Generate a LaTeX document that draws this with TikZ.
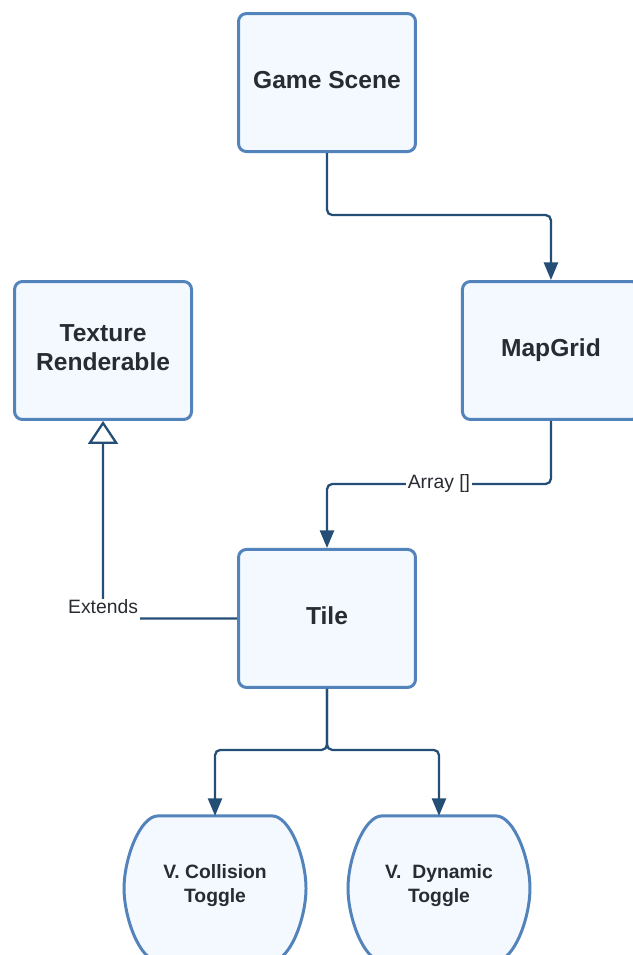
\documentclass[tikz,border=0pt]{standalone}
\usepackage{fontspec}
\setmainfont{Liberation Sans}
\usetikzlibrary{matrix,arrows.meta,positioning}
\definecolor{boxline}{RGB}{82,131,186}
\definecolor{boxfill}{RGB}{244,249,255}
\definecolor{connline}{RGB}{36,78,117}
\definecolor{txt}{RGB}{40,44,50}
\pgfdeclarelayer{bg}
\pgfsetlayers{bg,main}
\tikzset{
	box/.style={draw=boxline, fill=boxfill, line width=1.7pt, rounded corners=4.5pt, minimum width=3.54cm, minimum height=2.76cm, text depth=3.5pt, align=center, text=txt, font=\bfseries\fontsize{14}{16.5}\selectfont},
	toggle/.style={minimum width=3.64cm, minimum height=2.9cm, outer sep=0pt, text depth=5.5pt, align=center, text=txt, font=\bfseries\fontsize{11}{13.5}\selectfont},
	toggleshape/.style={draw=boxline, fill=boxfill, line width=1.7pt},
	conn/.style={draw=connline, line width=1.3pt, rounded corners=3pt, -{Triangle[length=10pt,width=8pt]}},
	lbl/.style={fill=white, text=txt, font=\fontsize{11}{13}\selectfont, inner xsep=1pt, inner ysep=2pt, rounded corners=0pt}
}

\begin{document}
\begin{tikzpicture}[x=0.02cm, y=-0.02cm]
\useasboundingbox (0,0) rectangle (632,955);
\matrix (m) [matrix of nodes, nodes={box, anchor=center}, row sep=2.54cm, column sep=0.88cm] at (327,350.5)
{
	& Game Scene&\\
	|[text width=3cm, text depth=20pt]| Texture Renderable&& MapGrid\\
	& Tile&\\
};
\node[toggle, below=2.54cm of m-3-2, xshift=-2.24cm] (coll) {V. Collision\\Toggle};
\node[toggle, below=2.54cm of m-3-2, xshift=2.24cm] (dyn) {V.\ \ Dynamic\\Toggle};
\begin{pgfonlayer}{bg}
\foreach \t in {coll,dyn}
	\draw[toggleshape] ([xshift=-1.14cm]\t.north) -- ([xshift=1.14cm]\t.north)
	.. controls ([xshift=1.5cm]\t.north) and ([yshift=0.6cm]\t.east) .. (\t.east)
	.. controls ([yshift=-0.6cm]\t.east) and ([xshift=1.5cm]\t.south) .. ([xshift=1.14cm]\t.south)
	-- ([xshift=-1.14cm]\t.south)
	.. controls ([xshift=-1.5cm]\t.south) and ([yshift=-0.6cm]\t.west) .. (\t.west)
	.. controls ([yshift=0.6cm]\t.west) and ([xshift=-1.5cm]\t.north) .. cycle;
\end{pgfonlayer}
\draw[conn] (m-1-2.south) -- ++(0,62) -| (m-2-3.north);
\draw[conn] (m-2-3.south) -- ++(0,63) -| node[lbl, pos=0.25] {Array []} (m-3-2.north);
\draw[conn, -{Triangle[open,length=13pt,width=17pt,fill=white]}] (m-3-2.west) -| node[lbl, pos=0.5, anchor=base, yshift=0.1cm, inner ysep=0pt, text height=8.5pt, text depth=4.5pt] {Extends} (m-2-1.south);
\draw[conn] (m-3-2.south) -- ++(0,61) -| (coll.north);
\draw[conn] (m-3-2.south) -- ++(0,61) -| (dyn.north);
\end{tikzpicture}
\end{document}
